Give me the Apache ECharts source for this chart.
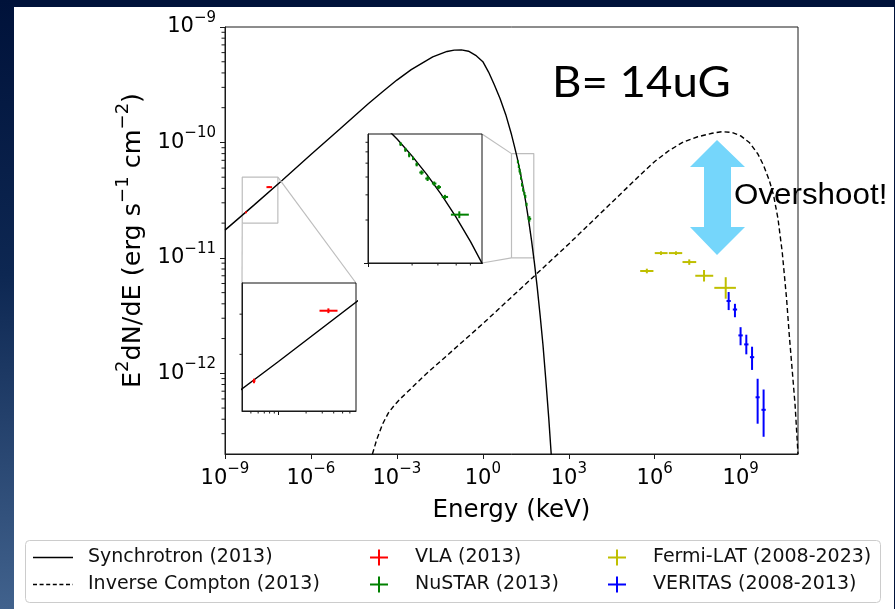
<!DOCTYPE html>
<html><head><meta charset="utf-8">
<script src="https://cdn.jsdelivr.net/npm/echarts@6/dist/echarts.min.js"></script>
<style>
html,body{margin:0;padding:0;width:895px;height:609px;overflow:hidden;background:#00123a;}
#bgL{position:absolute;left:0;top:0;width:14px;height:609px;background:linear-gradient(#00123a 0%,#0d2752 45%,#41628d 100%);}
#panel{position:absolute;left:14px;top:7px;width:880px;height:602px;background:#fff;}
#chart{position:absolute;left:0;top:0;width:895px;height:609px;}
</style></head>
<body>
<div id="bgL"></div><div id="panel"></div>
<div id="chart"></div>
<script>
// ---------- data (Energy in keV, E^2 dN/dE in erg s^-1 cm^-2) ----------
const synchE = [1e-9,1e-8,1e-7,1e-6,1e-5,3.16e-5,1e-4,3.16e-4,1e-3,3.16e-3,1e-2,1.78e-2,3.16e-2,5.62e-2,0.1,0.178,0.316,0.562,1,1.585,2.51,3.98,6.31,10,12.6,15.85,19.95,25.1,31.6,39.8,50.1,63.1,79.4,100,126,158,200,251];
const synchF = [1.74e-11,2.85e-11,4.71e-11,7.85e-11,1.30e-10,1.68e-10,2.16e-10,2.75e-10,3.47e-10,4.27e-10,5.07e-10,5.50e-10,5.82e-10,6.14e-10,6.31e-10,6.34e-10,6.17e-10,5.69e-10,5.01e-10,4.07e-10,3.16e-10,2.40e-10,1.74e-10,1.17e-10,9.3e-11,7.36e-11,5.62e-11,4.19e-11,3.02e-11,2.10e-11,1.41e-11,9.04e-12,5.5e-12,3.16e-12,1.74e-12,8.7e-13,4.07e-13,1.78e-13];
const icE = [1.4e-4,2.0e-4,3.16e-4,5.0e-4,7.94e-4,1.26e-3,3.16e-3,1e-2,0.1,1,10,100,1e3,1e4,1e5,3.16e5,1e6,3.16e6,1e7,3.16e7,1e8,2.24e8,5.0e8,1e9,2.0e9,3.98e9,6.31e9,1e10,1.41e10,2.0e10,2.82e10,3.98e10,5.0e10,6.31e10,7.94e10,1e11];
const icF = [2.0e-13,2.69e-13,3.63e-13,4.52e-13,5.25e-13,5.96e-13,7.41e-13,9.77e-13,1.62e-12,2.69e-12,4.57e-12,7.76e-12,1.32e-11,2.29e-11,3.98e-11,5.25e-11,6.84e-11,8.51e-11,1.01e-10,1.12e-10,1.20e-10,1.24e-10,1.22e-10,1.14e-10,1.0e-10,7.94e-11,6.31e-11,4.68e-11,3.47e-11,2.19e-11,1.12e-11,4.47e-12,2.09e-12,1.05e-12,5.25e-13,2.0e-13];

const vlaE   = [5.4e-9, 3.5e-8];
const vlaElo = [5.2e-9, 2.8e-8];
const vlaEhi = [5.6e-9, 4.4e-8];
const vlaF   = [2.48e-11, 4.1e-11];
const vlaFlo = [2.44e-11, 4.03e-11];
const vlaFhi = [2.52e-11, 4.17e-11];

const nuE   = [16.7,18.0,19.1,20.3,21.5,23.2,25.5,28.3,30.4,33.5,42.0];
const nuElo = [16.4,17.7,18.8,20.0,21.1,22.4,24.6,27.3,29.3,31.9,36.8];
const nuEhi = [17.0,18.3,19.4,20.6,21.9,24.0,26.4,29.3,31.5,35.2,48.8];
const nuF   = [6.8e-11,6.2e-11,5.7e-11,5.4e-11,4.9e-11,4.3e-11,3.9e-11,3.6e-11,3.4e-11,2.9e-11,2.18e-11];
const nuFlo = [6.6e-11,6.0e-11,5.5e-11,5.25e-11,4.75e-11,4.15e-11,3.75e-11,3.48e-11,3.29e-11,2.8e-11,2.06e-11];
const nuFhi = [7.0e-11,6.4e-11,5.9e-11,5.55e-11,5.05e-11,4.45e-11,4.05e-11,3.72e-11,3.51e-11,3.0e-11,2.3e-11];

const fermiE   = [5.3e5,1.65e6,5.5e6,1.6e7,5.25e7,3.0e8];
const fermiElo = [3.1e5,1.0e6,3.1e6,9.3e6,2.6e7,1.2e8];
const fermiEhi = [9.0e5,2.8e6,9.1e6,2.8e7,1.1e8,6.8e8];
const fermiF   = [7.7e-12,1.10e-11,1.10e-11,9.2e-12,7.0e-12,5.5e-12];
const fermiFlo = [7.35e-12,1.06e-11,1.06e-11,8.7e-12,6.24e-12,4.43e-12];
const fermiFhi = [8.06e-12,1.14e-11,1.14e-11,9.7e-12,7.85e-12,6.8e-12];

const verE   = [3.8e8,6.3e8,9.9e8,1.57e9,2.49e9,3.9e9,6.3e9];
const verElo = [3.2e8,5.3e8,8.3e8,1.32e9,2.1e9,3.3e9,5.3e9];
const verEhi = [4.5e8,7.5e8,1.18e9,1.87e9,2.96e9,4.6e9,7.5e9];
const verF   = [4.23e-12,3.57e-12,2.13e-12,1.78e-12,1.38e-12,6.2e-13,4.83e-13];
const verFlo = [3.53e-12,3.06e-12,1.75e-12,1.46e-12,1.07e-12,3.66e-13,2.82e-13];
const verFhi = [5.06e-12,4.0e-12,2.51e-12,2.16e-12,1.70e-12,8.97e-13,7.24e-13];

// axis ranges and ticks
const xRange = [1e-9, 1e11];
const yRange = [2e-13, 1e-9];
const xMajor = [1e-9,1e-6,1e-3,1,1e3,1e6,1e9];
const yMajor = [1e-12,1e-11,1e-10,1e-9];
const yMinor = [3e-13,4e-13,5e-13,6e-13,7e-13,8e-13,9e-13,2e-12,3e-12,4e-12,5e-12,6e-12,7e-12,8e-12,9e-12,2e-11,3e-11,4e-11,5e-11,6e-11,7e-11,8e-11,9e-11,2e-10,3e-10,4e-10,5e-10,6e-10,7e-10,8e-10,9e-10];
const in1X = [4e-9, 7e-8], in1Y = [2e-11, 5e-11];
const in1XMajor = [1e-8], in1XMinor = [5e-9,6e-9,7e-9,8e-9,9e-9,2e-8,3e-8,4e-8,5e-8,6e-8];
const in1YMinor = [3e-11,4e-11];
const in2X = [10, 60], in2Y = [1e-11, 8e-11];
const in2XMajor = [10], in2XMinor = [20,30,40,50];
const in2YMajor = [1e-11], in2YMinor = [2e-11,3e-11,4e-11,5e-11,6e-11,7e-11];

const legendCol1 = ['Synchrotron (2013)','Inverse Compton (2013)'];
const legendCol2 = ['VLA (2013)','NuSTAR (2013)'];
const legendCol3 = ['Fermi-LAT (2008-2023)','VERITAS (2008-2013)'];

// ---------- helpers ----------
const FONT = 'DejaVu Sans';
const zip = (a,b) => a.map((v,i)=>[v,b[i]]);
const errData = (E,F,El,Eh,Fl,Fh) => E.map((v,i)=>[v,F[i],El[i],Eh[i],Fl[i],Fh[i]]);
function supLabel(v){ const e=Math.round(Math.log10(v)); return '{b|10}{s|'+(e<0?'\u2212':'')+Math.abs(e)+'}'; }
const tickRich = {b:{fontSize:21,fontFamily:FONT,color:'#000'}, s:{fontSize:15,fontFamily:FONT,color:'#000',padding:[0,0,18,0]}};
function errRender(lw){
  return function(params, api){
    const c = api.coord([api.value(0), api.value(1)]);
    const xl = api.coord([api.value(2), api.value(1)]);
    const xh = api.coord([api.value(3), api.value(1)]);
    const yl = api.coord([api.value(0), api.value(4)]);
    const yh = api.coord([api.value(0), api.value(5)]);
    const st = {stroke: api.visual('color'), lineWidth: lw};
    return {type:'group', children:[
      {type:'line', shape:{x1:xl[0],y1:c[1],x2:xh[0],y2:c[1]}, style:st},
      {type:'line', shape:{x1:c[0],y1:yl[1],x2:c[0],y2:yh[1]}, style:st}
    ]};
  };
}
function errSeries(name, color, data, xi, yi, z){
  return {type:'custom', name, xAxisIndex:xi, yAxisIndex:yi, clip:true, z:z||3,
    itemStyle:{color}, encode:{x:0,y:1}, renderItem: errRender(2), data};
}
function lineSeries(name, E, F, xi, yi, dashed, z){
  return {type:'line', name, xAxisIndex:xi, yAxisIndex:yi, data: zip(E,F), showSymbol:false, symbol:'none',
    smooth:false, clip:true, z:z||2, silent:true,
    lineStyle:{color:'#000', width:1.4, type: dashed?[5,3]:'solid'}, itemStyle:{color:'#000'}};
}
function rectSeries(X,Y){
  return {type:'line', name:'_rect', xAxisIndex:0, yAxisIndex:0, symbol:'none', silent:true, z:1,
    data:[[X[0],Y[0]],[X[1],Y[0]],[X[1],Y[1]],[X[0],Y[1]],[X[0],Y[0]]],
    lineStyle:{color:'#bdbdbd', width:1.2}};
}
// minor ticks of a log axis, placed through the axis scale
function tickSeries(vals, dir, xi, yi, anchor, len, z){
  return {type:'custom', name:'_ticks', xAxisIndex:xi, yAxisIndex:yi, clip:false, silent:true, z:z||3,
    encode:{x:0,y:1}, itemStyle:{color:'#1a1a1a'},
    data: vals.map(v => dir==='y' ? [anchor, v] : [v, anchor]),
    renderItem: function(params, api){
      const p = api.coord([api.value(0), api.value(1)]);
      const shape = dir==='y' ? {x1:p[0]-len, y1:p[1], x2:p[0], y2:p[1]} : {x1:p[0], y1:p[1], x2:p[0], y2:p[1]+len};
      return {type:'line', shape, style:{stroke:'#1a1a1a', lineWidth:1}};
    }};
}
const axLine = {show:true, lineStyle:{color:'#1a1a1a', width:1}};
const svgLine = (dash) => 'image://data:image/svg+xml;charset=utf-8,' + encodeURIComponent(
  '<svg xmlns="http://www.w3.org/2000/svg" width="50" height="14"><line x1="0" y1="7" x2="40" y2="7" stroke="#000" stroke-width="1.6"' + (dash?' stroke-dasharray="4,2.6"':'') + '/></svg>');
const svgPlus = (col) => 'image://data:image/svg+xml;charset=utf-8,' + encodeURIComponent(
  '<svg xmlns="http://www.w3.org/2000/svg" width="62" height="18"><line x1="22" y1="9" x2="40" y2="9" stroke="'+col+'" stroke-width="2"/><line x1="31" y1="1" x2="31" y2="17" stroke="'+col+'" stroke-width="2"/></svg>');

const chart = echarts.init(document.getElementById('chart'), null, {renderer:'canvas'});
const legendText = {fontFamily:FONT, fontSize:19, color:'#111', lineHeight:27};
const option = {
  backgroundColor:'transparent',
  animation:false,
  grid:[
    {left:225, top:27, width:573, height:427, show:true, borderColor:'#1a1a1a', borderWidth:1, backgroundColor:'transparent', z:0},
    {left:242, top:283, width:114, height:128, show:true, borderColor:'#111', borderWidth:1, backgroundColor:'#fff', z:10},
    {left:368, top:134, width:114, height:129, show:true, borderColor:'#111', borderWidth:1, backgroundColor:'#fff', z:10}
  ],
  xAxis:[
    {type:'log', logBase:10, gridIndex:0, position:'bottom', min:xRange[0], max:xRange[1], axisLine:axLine,
      axisTick:{show:true, inside:false, length:5, customValues:xMajor, lineStyle:{color:'#1a1a1a'}},
      axisLabel:{customValues:xMajor, formatter:supLabel, rich:tickRich, margin:8},
      splitLine:{show:false}, minorTick:{show:false},
      name:'Energy (keV)', nameLocation:'middle', nameGap:44,
      nameTextStyle:{fontFamily:FONT, fontSize:24.5, color:'#000'}},
    {type:'log', logBase:10, gridIndex:1, position:'bottom', min:in1X[0], max:in1X[1], z:11, axisLine:axLine,
      axisTick:{show:true, length:4, customValues:in1XMajor, lineStyle:{color:'#111'}}, axisLabel:{show:false}, splitLine:{show:false}},
    {type:'log', logBase:10, gridIndex:2, position:'bottom', min:in2X[0], max:in2X[1], z:11, axisLine:axLine,
      axisTick:{show:true, length:4, customValues:in2XMajor, lineStyle:{color:'#111'}}, axisLabel:{show:false}, splitLine:{show:false}}
  ],
  yAxis:[
    {type:'log', logBase:10, gridIndex:0, position:'left', min:yRange[0], max:yRange[1], axisLine:axLine,
      axisTick:{show:true, inside:false, length:5, customValues:yMajor, lineStyle:{color:'#1a1a1a'}},
      axisLabel:{customValues:yMajor, formatter:supLabel, rich:tickRich, margin:9},
      splitLine:{show:false},
      name:'{b|E}{s|2}{b|dN/dE (erg s}{s|\u22121}{b| cm}{s|\u22122}{b|)}', nameLocation:'middle', nameRotate:90, nameGap:71,
      nameTextStyle:{rich:{b:{fontFamily:FONT, fontSize:25.5, color:'#000'}, s:{fontFamily:FONT, fontSize:18, color:'#000', padding:[0,0,20,0]}}}},
    {type:'log', logBase:10, gridIndex:1, position:'left', min:in1Y[0], max:in1Y[1], z:11, axisLine:axLine,
      axisTick:{show:false}, axisLabel:{show:false}, splitLine:{show:false}},
    {type:'log', logBase:10, gridIndex:2, position:'left', min:in2Y[0], max:in2Y[1], z:11, axisLine:axLine,
      axisTick:{show:true, length:4, customValues:in2YMajor, lineStyle:{color:'#111'}}, axisLabel:{show:false}, splitLine:{show:false}}
  ],
  legend:[
    {orient:'vertical', left:33, top:544, padding:0, itemGap:0, itemWidth:50, itemHeight:14, textStyle:legendText, selectedMode:false,
      data:[{name:legendCol1[0], icon:svgLine(false)},{name:legendCol1[1], icon:svgLine(true)}]},
    {orient:'vertical', left:348, top:544, padding:0, itemGap:0, itemWidth:62, itemHeight:18, textStyle:legendText, selectedMode:false,
      data:[{name:legendCol2[0], icon:svgPlus('#ff0000')},{name:legendCol2[1], icon:svgPlus('#008000')}]},
    {orient:'vertical', left:586, top:544, padding:0, itemGap:0, itemWidth:62, itemHeight:18, textStyle:legendText, selectedMode:false,
      data:[{name:legendCol3[0], icon:svgPlus('#bfbf00')},{name:legendCol3[1], icon:svgPlus('#0000ff')}]}
  ],
  series:[
    rectSeries(in1X,in1Y),
    rectSeries(in2X,in2Y),
    lineSeries(legendCol1[0], synchE, synchF, 0, 0, false),
    lineSeries(legendCol1[1], icE, icF, 0, 0, true),
    errSeries(legendCol2[0], '#ff0000', errData(vlaE,vlaF,vlaElo,vlaEhi,vlaFlo,vlaFhi), 0, 0),
    errSeries(legendCol2[1], '#008000', errData(nuE,nuF,nuElo,nuEhi,nuFlo,nuFhi), 0, 0),
    errSeries(legendCol3[0], '#bfbf00', errData(fermiE,fermiF,fermiElo,fermiEhi,fermiFlo,fermiFhi), 0, 0),
    errSeries(legendCol3[1], '#0000ff', errData(verE,verF,verElo,verEhi,verFlo,verFhi), 0, 0),
    tickSeries(yMinor, 'y', 0, 0, xRange[0], 3.5),
    lineSeries(legendCol1[0], synchE, synchF, 1, 1, false, 12),
    errSeries(legendCol2[0], '#ff0000', errData(vlaE,vlaF,vlaElo,vlaEhi,vlaFlo,vlaFhi), 1, 1, 13),
    tickSeries(in1XMinor, 'x', 1, 1, in1Y[0], 2.5, 13),
    tickSeries(in1YMinor, 'y', 1, 1, in1X[0], 2.5, 13),
    lineSeries(legendCol1[0], synchE, synchF, 2, 2, false, 12),
    errSeries(legendCol2[1], '#008000', errData(nuE,nuF,nuElo,nuEhi,nuFlo,nuFhi), 2, 2, 13),
    tickSeries(in2XMinor, 'x', 2, 2, in2Y[0], 2.5, 13),
    tickSeries(in2YMinor, 'y', 2, 2, in2X[0], 2.5, 13)
  ]
};
chart.setOption(option);

// connectors, annotations and legend frame
const P0 = (x,y) => chart.convertToPixel({xAxisIndex:0, yAxisIndex:0}, [x,y]);
const P1 = (x,y) => chart.convertToPixel({xAxisIndex:1, yAxisIndex:1}, [x,y]);
const P2 = (x,y) => chart.convertToPixel({xAxisIndex:2, yAxisIndex:2}, [x,y]);
const conn = (a,b) => ({type:'line', z:5, silent:true, shape:{x1:a[0],y1:a[1],x2:b[0],y2:b[1]}, style:{stroke:'#bdbdbd', lineWidth:1.2}});
const arrow = [[717,140],[690,167],[704,167],[704,227],[690,227],[717,255],[745,227],[731,227],[731,167],[745,167]];
chart.setOption({graphic:[
  conn(P0(in1X[1],in1Y[1]), P1(in1X[1],in1Y[1])),
  conn(P0(in1X[0],in1Y[0]), P1(in1X[0],in1Y[1])),
  conn(P2(in2X[1],in2Y[1]), P0(in2X[0],in2Y[1])),
  conn(P2(in2X[1],in2Y[0]), P0(in2X[0],in2Y[0])),
  {type:'polygon', z:20, silent:true, shape:{points:arrow}, style:{fill:'#75d6fb'}},
  {type:'text', z:20, x:552, y:62, scaleX:1.085, style:{text:'B= 14uG', font:'42px Lato', fill:'#000'}},
  {type:'text', z:20, x:734, y:181, scaleX:1.045, style:{text:'Overshoot!', font:'30px "Liberation Sans"', fill:'#000'}},
  {type:'rect', z:-1, silent:true, shape:{x:25.5, y:540.5, width:855, height:62, r:4}, style:{fill:'#fff', stroke:'#cccccc', lineWidth:1}}
]});
</script>
</body></html>
